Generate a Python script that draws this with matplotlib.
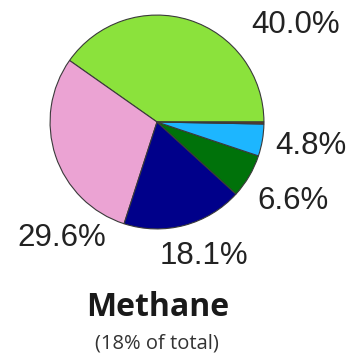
import matplotlib
matplotlib.use("Agg")
import matplotlib.pyplot as plt

# methane sources, share of total (%), counter-clockwise from 3 o'clock
shares = [40.0, 29.6, 18.1, 6.6, 4.8, 0.3]
labels = ["40.0%", "29.6%", "18.1%", "6.6%", "4.8%", ""]
colors = ["#8be23c", "#eba3d3", "#00008a", "#00720a", "#1db6ff", "#6a3b20"]

W, H = 356, 361
fig = plt.figure(figsize=(W / 100, H / 100), dpi=100)

cx, cy, r = 157, 122, 108
ax = fig.add_axes([(cx - r) / W, 1 - (cy + r) / H, 2 * r / W, 2 * r / H])
ax.pie(shares, colors=colors, startangle=0, counterclock=True,
       wedgeprops=dict(edgecolor="#3a3a3a", linewidth=0.8))
ax.set_xlim(-1.01, 1.01)
ax.set_ylim(-1.01, 1.01)
ax.axis("off")

# percentage labels (pixel positions of their centres)
label_pos = {
    "40.0%": (296, 25),
    "29.6%": (62, 238),
    "18.1%": (204, 256),
    "6.6%": (293, 201),
    "4.8%": (311, 146),
}
for s in labels:
    if not s:
        continue
    x, y = label_pos[s]
    fig.text(x / W, 1 - y / H, s, ha="center", va="center",
             fontsize=22.5, family="Liberation Sans", color="#222222")

fig.text(158 / W, 1 - 308 / H, "Methane", ha="center", va="center",
         fontsize=23, fontweight="bold", family="Open Sans", color="#1a1a1a")
fig.text(157 / W, 1 - 343 / H, "(18% of total)", ha="center", va="center",
         fontsize=14.5, family="Open Sans", color="#333333")

fig.savefig("out.png", dpi=100)
